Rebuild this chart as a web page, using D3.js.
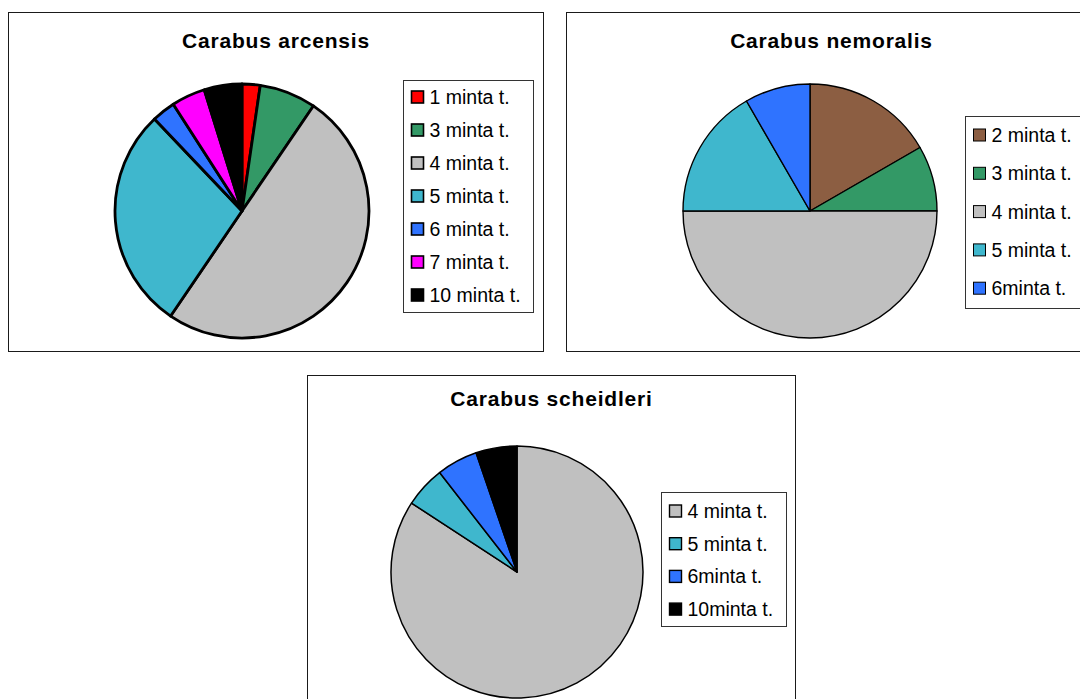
<!DOCTYPE html>
<html>
<head>
<meta charset="utf-8">
<script src="https://cdn.jsdelivr.net/npm/d3@7"></script>
<style>
  html, body { margin: 0; padding: 0; background: #ffffff; }
  svg { display: block; }
  text { font-family: "Liberation Sans", Arial, sans-serif; fill: #000; }
</style>
</head>
<body>
<svg id="chart" width="1080" height="699"></svg>
<script>
// Sample shares per species (minta t. = sampling site)
const arcensisLabels = ["1 minta t.", "3 minta t.", "4 minta t.", "5 minta t.", "6 minta t.", "7 minta t.", "10 minta t."];
const arcensisValues = [2.3, 7.2, 50, 28.4, 3.0, 4.3, 4.8];
const arcensisColors = ["#ff0000", "#339966", "#c0c0c0", "#3fb7cd", "#2f73ff", "#ff00ff", "#000000"];

const nemoralisLabels = ["2 minta t.", "3 minta t.", "4 minta t.", "5 minta t.", "6minta t."];
const nemoralisValues = [2, 1, 6, 2, 1];
const nemoralisColors = ["#8c5e42", "#339966", "#c0c0c0", "#3fb7cd", "#2f73ff"];

const scheidleriLabels = ["4 minta t.", "5 minta t.", "6minta t.", "10minta t."];
const scheidleriValues = [16, 1, 1, 1];
const scheidleriColors = ["#c0c0c0", "#3fb7cd", "#2f73ff", "#000000"];

const svg = d3.select("#chart");

const panels = [
  {
    title: "Carabus arcensis", labels: arcensisLabels, values: arcensisValues, colors: arcensisColors,
    frame: { x: 8.5, y: 12.5, w: 535, h: 339 }, titleY: 40,
    pie: { cx: 242, cy: 211, r: 127, stroke: 2.8 },
    legend: { x: 403.5, y: 80.5, w: 130, h: 232, rowY: 97, rowStep: 33, swatch: 12, swatchStroke: 1.6 }
  },
  {
    title: "Carabus nemoralis", labels: nemoralisLabels, values: nemoralisValues, colors: nemoralisColors,
    frame: { x: 566.5, y: 12.5, w: 530, h: 339 }, titleY: 40,
    pie: { cx: 810, cy: 211, r: 127, stroke: 1.4 },
    legend: { x: 965.5, y: 116.5, w: 130, h: 192, rowY: 135, rowStep: 38.3, swatch: 12, swatchStroke: 1 }
  },
  {
    title: "Carabus scheidleri", labels: scheidleriLabels, values: scheidleriValues, colors: scheidleriColors,
    frame: { x: 307.5, y: 375.5, w: 488, h: 340 }, titleY: 398,
    pie: { cx: 517, cy: 572, r: 126, stroke: 1.5 },
    legend: { x: 661.5, y: 492.5, w: 125, h: 134, rowY: 511, rowStep: 32.7, swatch: 12, swatchStroke: 1.4 }
  }
];

panels.forEach(p => {
  const g = svg.append("g");

  // outer frame
  g.append("rect")
    .attr("x", p.frame.x).attr("y", p.frame.y)
    .attr("width", p.frame.w).attr("height", p.frame.h)
    .attr("fill", "#ffffff").attr("stroke", "#1a1a1a").attr("stroke-width", 1);

  // title
  g.append("text")
    .attr("x", p.frame.x + p.frame.w / 2)
    .attr("y", p.titleY + 7.5)
    .attr("text-anchor", "middle")
    .style("font-size", "21px")
    .style("font-weight", "bold")
    .style("letter-spacing", "0.8px")
    .text(p.title);

  // pie slices, clockwise from 12 o'clock in data order
  const pie = d3.pie().sort(null).value(d => d)(p.values);
  const arc = d3.arc().innerRadius(0).outerRadius(p.pie.r);
  const color = d3.scaleOrdinal().domain(p.labels).range(p.colors);

  g.append("g")
    .attr("transform", `translate(${p.pie.cx},${p.pie.cy})`)
    .selectAll("path")
    .data(pie)
    .join("path")
    .attr("d", arc)
    .attr("fill", (d, i) => color(p.labels[i]))
    .attr("stroke", "#000")
    .attr("stroke-width", p.pie.stroke)
    .attr("stroke-linejoin", "round");

  // legend
  const L = p.legend;
  g.append("rect")
    .attr("x", L.x).attr("y", L.y).attr("width", L.w).attr("height", L.h)
    .attr("fill", "#ffffff").attr("stroke", "#333").attr("stroke-width", 1);

  const rows = g.append("g").selectAll("g")
    .data(p.labels)
    .join("g")
    .attr("transform", (d, i) => `translate(${L.x + 8},${L.rowY + i * L.rowStep})`);

  rows.append("rect")
    .attr("x", 0).attr("y", -L.swatch / 2)
    .attr("width", L.swatch).attr("height", L.swatch)
    .attr("fill", d => color(d))
    .attr("stroke", "#000").attr("stroke-width", L.swatchStroke);

  rows.append("text")
    .attr("x", L.swatch + 6)
    .attr("y", 7)
    .style("font-size", "19.5px")
    .text(d => d);
});
</script>
</body>
</html>
